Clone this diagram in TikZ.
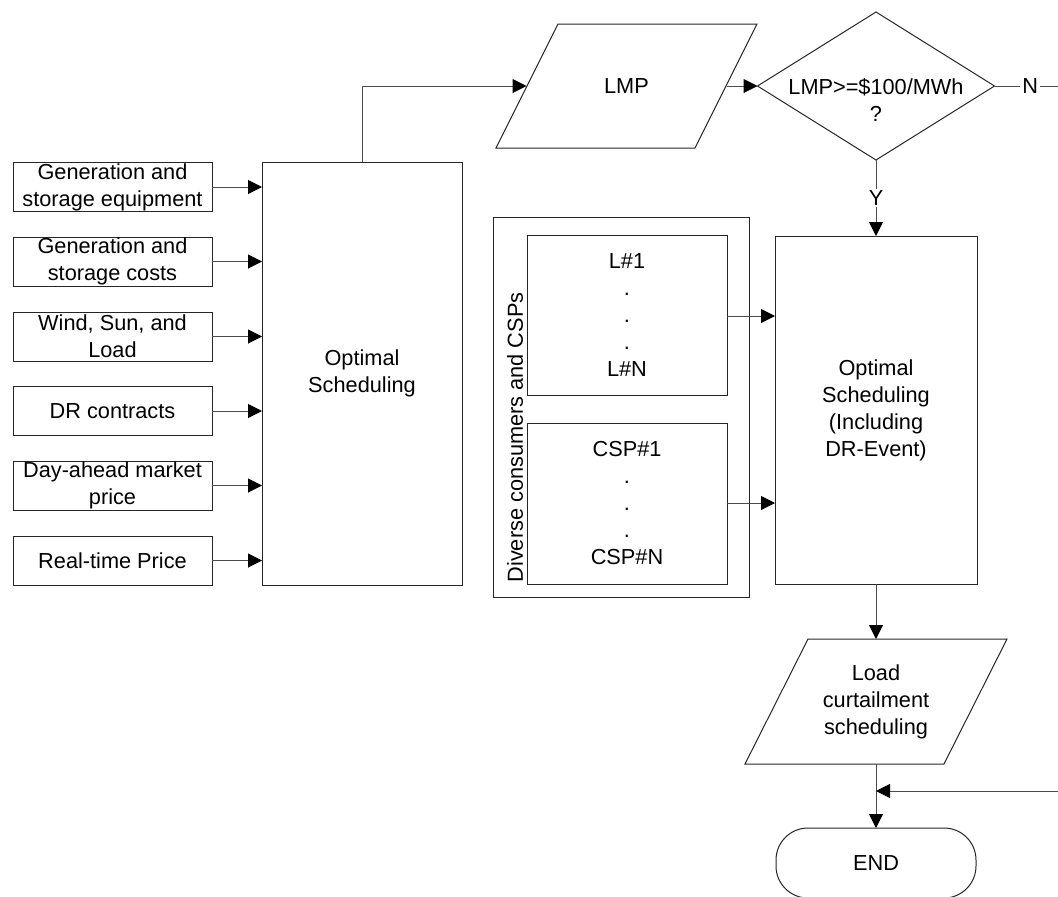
\documentclass[tikz,border=0pt]{standalone}
\usepackage{fontspec}
\setmainfont{Liberation Sans}
\usetikzlibrary{shapes.geometric,arrows.meta,calc}
\begin{document}
\begin{tikzpicture}[x=0.75pt,y=-0.75pt]
\tikzset{
  txt/.style={font=\fontsize{16.3}{20.25}\selectfont, align=center},
  base/.style={txt, draw=black!85, line width=0.75pt, inner sep=0pt, outer sep=0pt},
  inbox/.style={base, rectangle, minimum width=149.25pt, minimum height=36.75pt},
  procbox/.style={base, rectangle},
  iobox/.style={txt, rectangle, inner sep=0pt, outer sep=0pt},
  ioline/.style={draw=black!85, line width=0.75pt, line join=miter},
  decbox/.style={base, diamond},
  termbox/.style={base, rectangle, rounded corners=24pt},
  conn/.style={draw=black!70, line width=0.75pt, -{Triangle[length=10.5pt,width=10.5pt,color=black,fill=black]}},
  plainline/.style={draw=black!70, line width=0.75pt},
  lbl/.style={txt, fill=white, inner sep=1.5pt}
}
\useasboundingbox (0,0) rectangle (1058,897);
\clip (0,0) rectangle (1058,897);

% input boxes
\node[inbox] (in1) at (112.5,187) {Generation and\\storage equipment};
\node[inbox] (in2) at (112.5,261.5) {Generation and\\storage costs};
\node[inbox] (in3) at (112.5,336.5) {Wind, Sun, and\\Load};
\node[inbox] (in4) at (112.5,411) {DR contracts};
\node[inbox] (in5) at (112.5,485.5) {Day-ahead market\\price};
\node[inbox] (in6) at (112.5,560.5) {Real-time Price};

\node[procbox, minimum width=150pt, minimum height=317.25pt] (opt) at (362,373.5) {Optimal\\Scheduling};

\foreach \i in {1,...,6}{
  \draw[conn] (in\i.east) -- (in\i.east -| opt.west);
}

% LMP (parallelogram) and decision
\node[iobox, minimum width=195.75pt, minimum height=93pt] (lmp) at (626.5,86) {LMP};
\draw[ioline] (lmp.south west) -- ($(lmp.south west)+(199,0)$) -- (lmp.north east)
  -- ($(lmp.north east)+(-199,0)$) -- cycle;
\coordinate (lmpL) at ($(lmp.west)+(30.5,0)$);
\coordinate (lmpR) at ($(lmp.east)+(-30.5,0)$);

\node[decbox, minimum width=177.75pt, minimum height=111pt] (dec) at (876,86) {};
\node[txt, inner sep=0pt] (dect) at (876,100) {LMP>=\$100/MWh\\?};

\draw[conn] (opt.north) |- (lmpL);
\draw[conn] (lmpR) -- (dec.west);

% group of consumers
\node[procbox, minimum width=192pt, minimum height=285pt] (grp) at (621,407) {};
\node[procbox, minimum width=150pt, minimum height=120pt] (lbox) at (627,315) {L\#1\\.\\.\\.\\L\#N};
\node[procbox, minimum width=150pt, minimum height=120.75pt] (cbox) at (627,503.5) {CSP\#1\\.\\.\\.\\CSP\#N};
\node[txt, rotate=90, inner sep=0pt] (grplbl) at (515,437.5) {Diverse consumers and CSPs};

% second optimal scheduling
\node[procbox, minimum width=151.5pt, minimum height=261pt] (opt2) at (876,410) {Optimal\\Scheduling\\(Including\\DR-Event)};

\draw[conn] (dec.south) -- node[lbl] (ylbl) {Y} (opt2.north);
\draw[conn] (lbox.east |- 0,316) -- (opt2.west |- 0,316);
\draw[conn] (cbox.east |- 0,503) -- (opt2.west |- 0,503);

% load curtailment (parallelogram) and end
\node[iobox, minimum width=196.5pt, minimum height=93.75pt] (lcs) at (876,701.5) {Load\\curtailment\\scheduling};
\draw[ioline] (lcs.south west) -- ($(lcs.south west)+(199,0)$) -- (lcs.north east)
  -- ($(lcs.north east)+(-199,0)$) -- cycle;
\node[termbox, minimum width=150pt, minimum height=52.5pt] (endn) at (876,863) {END};

\draw[conn] (opt2.south) -- (lcs.north);
\draw[conn] (lcs.south) -- (endn.north);

% N branch (leaves the picture on the right and returns)
\coordinate (nR) at (1066,86);
\coordinate (nRd) at (1066,791);
\coordinate (junc) at (876,791);
\draw[plainline] (dec.east) -- node[lbl] (nlbl) {N} (nR) -- (nRd);
\draw[conn] (nRd) -- (junc);
\end{tikzpicture}
\end{document}
